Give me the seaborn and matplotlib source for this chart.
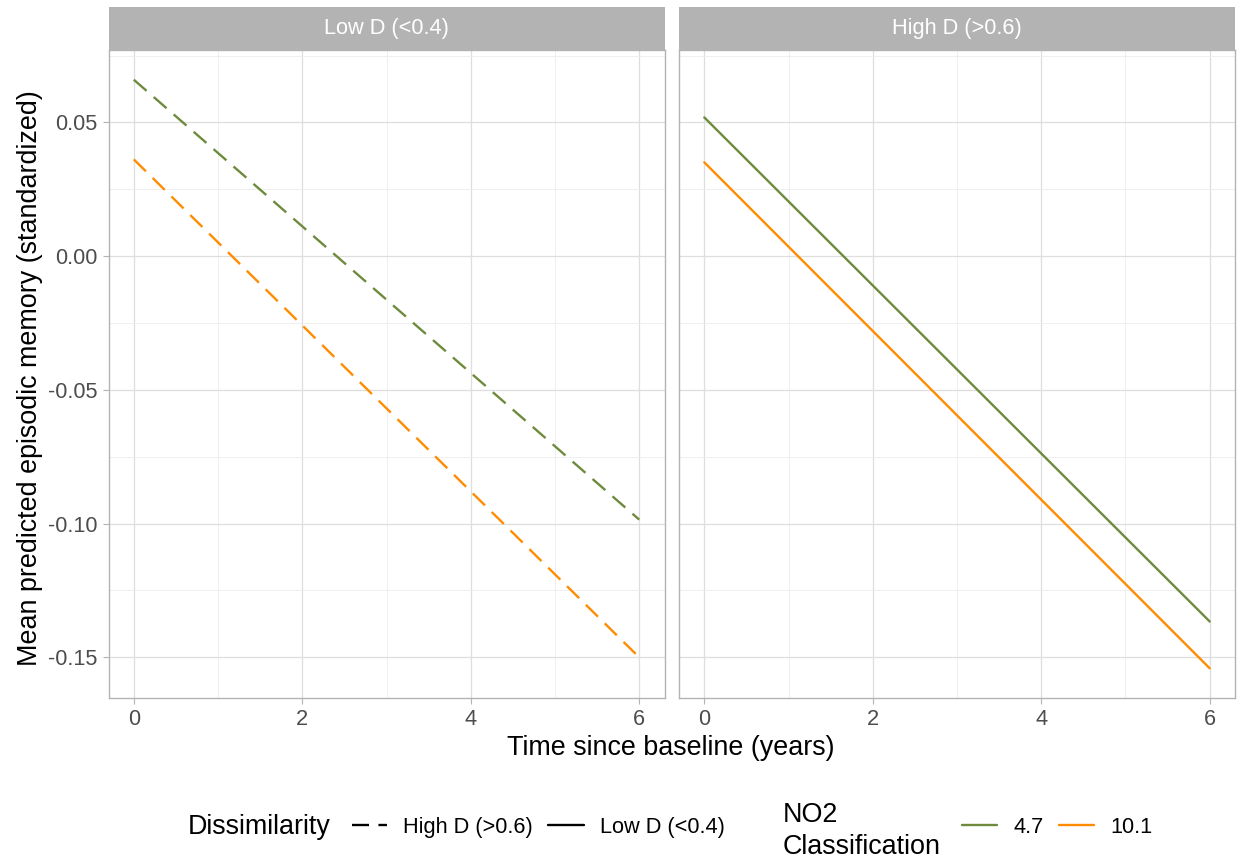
import matplotlib
matplotlib.use("Agg")
import matplotlib.pyplot as plt
from matplotlib.lines import Line2D
from matplotlib.ticker import MultipleLocator, FormatStrFormatter
import seaborn as sns
import pandas as pd

sns.set_theme(style="white")
plt.rcParams['font.family'] = ['Liberation Sans', 'DejaVu Sans']
plt.rcParams['text.color'] = 'black'

# ---- data ----
time = [0, 6]
panels = ["Low D (<0.4)", "High D (>0.6)"]
dissim = ["High D (>0.6)", "Low D (<0.4)"]   # legend label used in each panel
no2_levels = ["4.7", "10.1"]
low_d_47 = [0.066, -0.0985]
low_d_101 = [0.0362, -0.150]
high_d_47 = [0.0519, -0.1366]
high_d_101 = [0.0351, -0.1541]

rows = []
for panel, dis, s47, s101 in [(panels[0], dissim[0], low_d_47, low_d_101),
                              (panels[1], dissim[1], high_d_47, high_d_101)]:
    for t, v in zip(time, s47):
        rows.append(dict(panel=panel, Dissimilarity=dis, NO2=no2_levels[0], time=t, memory=v))
    for t, v in zip(time, s101):
        rows.append(dict(panel=panel, Dissimilarity=dis, NO2=no2_levels[1], time=t, memory=v))
df = pd.DataFrame(rows)

palette = {"4.7": "#6E8B3D", "10.1": "#FF8C00"}
dash_map = {"High D (>0.6)": (7.2, 4.0), "Low D (<0.4)": ""}

W, H = 1238, 863
fig = plt.figure(figsize=(W / 100, H / 100), dpi=100)

def fx(px):
    return px / W

def fy(py):
    return 1 - py / H

panel_px = [(108.5, 664.5), (679, 1235)]
top_px, bot_px, strip_top = 50, 698, 7
axes = []
for i, (x0, x1) in enumerate(panel_px):
    ax = fig.add_axes([fx(x0), fy(bot_px), fx(x1 - x0), (bot_px - top_px) / H])
    sub = df[df.panel == panels[i]]
    sns.lineplot(data=sub, x="time", y="memory", hue="NO2", style="Dissimilarity",
                 palette=palette, dashes=dash_map, hue_order=no2_levels,
                 linewidth=1.7, legend=False, ax=ax, zorder=3)
    ax.set_xlim(-0.3, 6.3)
    ax.set_ylim(-0.1652, 0.0771)
    ax.xaxis.set_major_locator(MultipleLocator(2))
    ax.xaxis.set_minor_locator(MultipleLocator(1))
    ax.yaxis.set_major_locator(MultipleLocator(0.05))
    ax.yaxis.set_minor_locator(MultipleLocator(0.025))
    ax.yaxis.set_major_formatter(FormatStrFormatter("%.2f"))
    ax.grid(which="major", color="#DEDEDE", linewidth=0.9)
    ax.grid(which="minor", color="#EDEDED", linewidth=0.6)
    ax.set_axisbelow(True)
    for sp in ax.spines.values():
        sp.set_color("#B3B3B3")
        sp.set_linewidth(1.0)
    ax.tick_params(which="major", length=4, width=0.8, color="#B3B3B3",
                   labelsize=15.7, labelcolor="#4D4D4D", pad=4,
                   bottom=True, left=(i == 0))
    ax.tick_params(which="minor", length=0)
    ax.set_xlabel("")
    ax.set_ylabel("")
    if i == 1:
        ax.tick_params(labelleft=False)
    # strip
    sax = fig.add_axes([fx(x0), fy(top_px), fx(x1 - x0), (top_px - strip_top) / H])
    sax.set_facecolor("#B3B3B3")
    sax.set_xticks([])
    sax.set_yticks([])
    for sp in sax.spines.values():
        sp.set_visible(False)
    sax.text(0.5, 0.5, panels[i], color="white", fontsize=15.7,
             ha="center", va="center", transform=sax.transAxes)
    axes.append(ax)

fig.text(fx(671), fy(748), "Time since baseline (years)", fontsize=19.4,
         ha="center", va="center", color="black")
fig.text(fx(30), fy(378), "Mean predicted episodic memory (standardized)",
         fontsize=19.4, rotation=90, ha="center", va="center", color="black")

# ---- legends ----
leg_y = 827
fig.text(fx(188), fy(leg_y), "Dissimilarity", fontsize=19.4, ha="left", va="center",
         color="black")
h1 = [Line2D([], [], color="black", linewidth=1.7, dashes=(7.2, 4.0)),
      Line2D([], [], color="black", linewidth=1.7)]
fig.legend(h1, dissim, loc="center left", bbox_to_anchor=(fx(352), fy(leg_y)),
           ncol=2, frameon=False, fontsize=15.7, handlelength=1.62,
           handletextpad=0.72, columnspacing=0.72, borderpad=0, borderaxespad=0,
           labelcolor="black")
fig.text(fx(783), fy(815), "NO2", fontsize=19.4, ha="left", va="center", color="black")
fig.text(fx(783), fy(847), "Classification", fontsize=19.4, ha="left", va="center",
         color="black")
h2 = [Line2D([], [], color=palette[k], linewidth=1.7) for k in no2_levels]
fig.legend(h2, no2_levels, loc="center left", bbox_to_anchor=(fx(962), fy(leg_y)),
           ncol=2, frameon=False, fontsize=15.7, handlelength=1.62,
           handletextpad=0.72, columnspacing=0.72, borderpad=0, borderaxespad=0,
           labelcolor="black")

fig.savefig("out.png", dpi=100, facecolor="white")
